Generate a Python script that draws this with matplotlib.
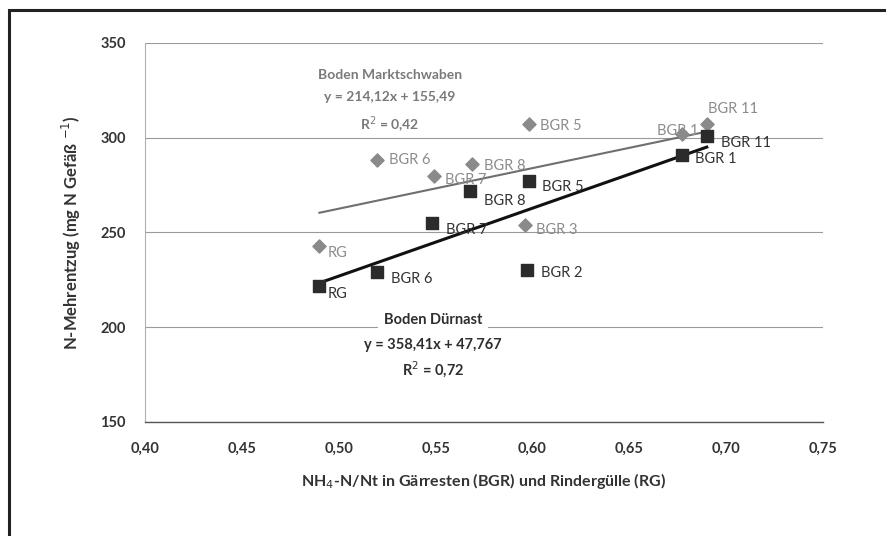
import matplotlib
matplotlib.use('Agg')
import matplotlib.pyplot as plt
from matplotlib.patches import Rectangle
import numpy as np

plt.rcParams['font.family'] = ['Lato', 'DejaVu Sans']

# Boden Duernast (schwarze Quadrate)
d_labels = ['RG', 'BGR 6', 'BGR 7', 'BGR 8', 'BGR 5', 'BGR 2', 'BGR 1', 'BGR 11']
d_x = [0.49, 0.52, 0.548, 0.568, 0.598, 0.597, 0.677, 0.690]
d_y = [222, 229, 255, 272, 277, 230, 291, 301]
d_coef = (358.41, 47.767)

# Boden Marktschwaben (graue Rauten)
m_labels = ['RG', 'BGR 6', 'BGR 7', 'BGR 8', 'BGR 5', 'BGR 3', 'BGR 1', 'BGR 11']
m_x = [0.49, 0.52, 0.549, 0.569, 0.598, 0.596, 0.677, 0.690]
m_y = [243, 288, 280, 286, 307, 254, 302, 307]
m_coef = (214.12, 155.49)

xticks = [0.40, 0.45, 0.50, 0.55, 0.60, 0.65, 0.70, 0.75]
yticks = [150, 200, 250, 300, 350]

# label offsets in points
d_off = [(6, -6), (10, -5), (10, -5), (10, -7), (10, -4), (10, -2), (10, -3), (10, -5)]
m_off = [(6, -5), (8, 0), (8, -3), (8, -1), (8, -1), (8, -4), (-18, 2), (1, 11)]

dark = '#2b2b2b'
grey = '#8a8a8a'

fig = plt.figure(figsize=(8.86, 5.36), dpi=100)
ax = fig.add_axes([0.1637, 0.2127, 0.7652, 0.7071])

# outer frame (only left/top visible in reference)
fig.patches.append(Rectangle((9 / 886, -0.1), 1.2, 1 - 10 / 536 + 0.1, transform=fig.transFigure,
                             fill=False, edgecolor='#222222', linewidth=2.2, zorder=0))

ax.set_xlim(0.40, 0.75)
ax.set_ylim(150, 350)
ax.set_xticks(xticks)
ax.set_yticks(yticks)
ax.set_xticklabels(['{:.2f}'.format(v).replace('.', ',') for v in xticks])
ax.set_yticklabels([str(v) for v in yticks])
ax.tick_params(axis='both', length=0, labelsize=10.5, colors='#333333')
ax.tick_params(axis='y', pad=14)
ax.tick_params(axis='x', pad=14)
for lab in ax.get_xticklabels() + ax.get_yticklabels():
    lab.set_fontweight('bold')

ax.grid(axis='y', color='#9a9a9a', linewidth=0.8)
ax.set_axisbelow(True)
for s in ['top', 'right']:
    ax.spines[s].set_visible(False)
ax.spines['left'].set_color('#b0b0b0')
ax.spines['left'].set_linewidth(0.8)
ax.spines['bottom'].set_color('#555555')
ax.spines['bottom'].set_linewidth(1.0)

# trend lines
xs = np.array([min(d_x), max(d_x)])
ax.plot(xs, m_coef[0] * xs + m_coef[1], color='#6f6f6f', linewidth=1.5, zorder=2)
ax.plot(xs, d_coef[0] * xs + d_coef[1], color='#111111', linewidth=2.2, zorder=2)

ax.scatter(m_x, m_y, marker='D', s=45, color=grey, zorder=3)
ax.scatter(d_x, d_y, marker='s', s=85, color=dark, zorder=4)

for x, y, t, o in zip(m_x, m_y, m_labels, m_off):
    ax.annotate(t, (x, y), xytext=o, textcoords='offset points', fontsize=10.5,
                color='#8c8c8c', va='center', ha='left', zorder=5)
for x, y, t, o in zip(d_x, d_y, d_labels, d_off):
    ax.annotate(t, (x, y), xytext=o, textcoords='offset points', fontsize=10.5,
                color='#333333', va='center', ha='left', zorder=5)

# regression texts
mk = dict(ha='center', va='center', fontsize=10, fontweight='bold', color='#7a7a7a')
ax.text(0.5265, 333, 'Boden Marktschwaben', **mk)
ax.text(0.5265, 321.5, 'y = 214,12x + 155,49', **mk)
ax.text(0.5265, 307, 'R$^2$ = 0,42', **mk)

dk = dict(ha='center', va='center', fontsize=10.5, fontweight='bold', color='#2e2e2e', zorder=5)
ax.text(0.5486, 204, 'Boden Dürnast', bbox=dict(facecolor='white', edgecolor='none', pad=4), **dk)
ax.text(0.5486, 190.5, 'y = 358,41x + 47,767', **dk)
ax.text(0.5486, 177.5, 'R$^2$ = 0,72', **dk)

ax.set_ylabel('N-Mehrentzug (mg N Gefäß $^{-1}$)', fontsize=12, fontweight='bold',
              color='#333333', labelpad=12)
ax.set_xlabel('NH$_4$-N/Nt in Gärresten (BGR) und Rindergülle (RG)', fontsize=11.5,
              fontweight='bold', color='#333333', labelpad=11)

fig.savefig('out.png', dpi=100)
